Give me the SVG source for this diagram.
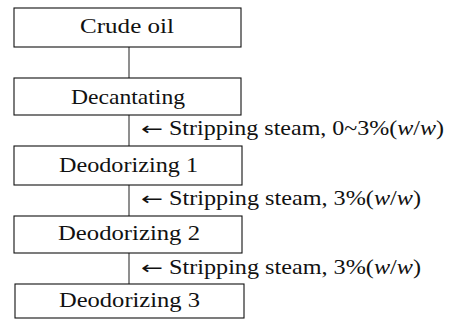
<svg xmlns="http://www.w3.org/2000/svg" width="450" height="320" viewBox="0 0 450 320">
<style>
.box{fill:#fff;stroke:#111;stroke-width:1.1}
.t{font-family:"Liberation Serif","Times New Roman",serif;font-size:21px;fill:#111}
.a{font-family:"DejaVu Sans",sans-serif;font-size:18px;fill:#111}
.c{stroke:#333;stroke-width:1.1;fill:none}
</style>
<rect width="450" height="320" fill="#fff"/>
<g id="connectors">
<line class="c" x1="129" y1="47" x2="129" y2="78"/>
<line class="c" x1="129" y1="115" x2="129" y2="146"/>
<line class="c" x1="129" y1="185" x2="129" y2="216"/>
<line class="c" x1="129" y1="253" x2="129" y2="284"/>
<text class="a" x="141" y="135" textLength="22" lengthAdjust="spacingAndGlyphs">←</text>
<text class="t" x="169" y="135" textLength="275" lengthAdjust="spacingAndGlyphs">Stripping steam, 0~3%(<tspan font-style="italic">w</tspan>/<tspan font-style="italic">w</tspan>)</text>
<text class="a" x="141" y="205" textLength="22" lengthAdjust="spacingAndGlyphs">←</text>
<text class="t" x="169" y="205" textLength="252" lengthAdjust="spacingAndGlyphs">Stripping steam, 3%(<tspan font-style="italic">w</tspan>/<tspan font-style="italic">w</tspan>)</text>
<text class="a" x="141" y="274" textLength="22" lengthAdjust="spacingAndGlyphs">←</text>
<text class="t" x="169" y="274" textLength="252" lengthAdjust="spacingAndGlyphs">Stripping steam, 3%(<tspan font-style="italic">w</tspan>/<tspan font-style="italic">w</tspan>)</text>
</g>
<g id="crude-oil">
<rect class="box" x="14" y="8" width="227" height="39"/>
<text class="t" x="80" y="33" textLength="94" lengthAdjust="spacingAndGlyphs">Crude oil</text>
</g>
<g id="decantating">
<rect class="box" x="14" y="78" width="227" height="37"/>
<text class="t" x="71" y="104" textLength="114" lengthAdjust="spacingAndGlyphs">Decantating</text>
</g>
<g id="deodorizing-1">
<rect class="box" x="14" y="146" width="228" height="39"/>
<text class="t" x="59" y="172" textLength="139" lengthAdjust="spacingAndGlyphs">Deodorizing 1</text>
</g>
<g id="deodorizing-2">
<rect class="box" x="14" y="216" width="228" height="37"/>
<text class="t" x="58" y="240" textLength="142" lengthAdjust="spacingAndGlyphs">Deodorizing 2</text>
</g>
<g id="deodorizing-3">
<rect class="box" x="15" y="284" width="229" height="34"/>
<text class="t" x="59" y="307" textLength="141" lengthAdjust="spacingAndGlyphs">Deodorizing 3</text>
</g>
</svg>
